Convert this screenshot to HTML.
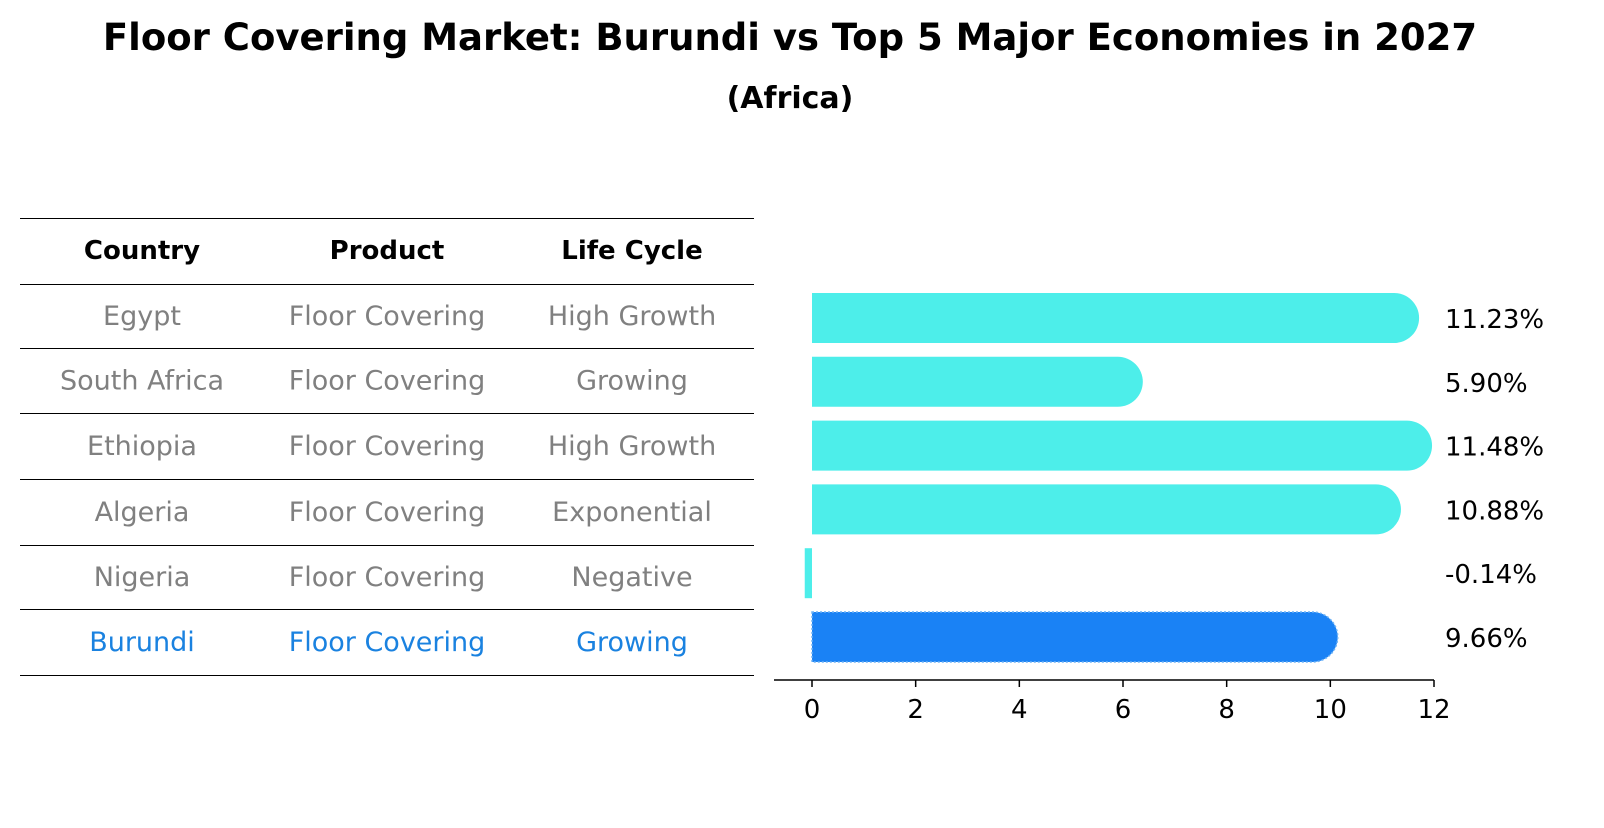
<!DOCTYPE html>
<html><head><meta charset="utf-8"><style>
body{margin:0;background:#fff;font-family:"Liberation Sans","DejaVu Sans",sans-serif;}
</style></head><body>
<svg width="1604" height="823" xmlns="http://www.w3.org/2000/svg" font-family="DejaVu Sans, Liberation Sans, sans-serif">
<text x="790" y="50" text-anchor="middle" font-size="37" font-weight="bold">Floor Covering Market: Burundi vs Top 5 Major Economies in 2027</text>
<text x="790" y="108" text-anchor="middle" font-size="30" font-weight="bold">(Africa)</text>
<g id="table"></g>
<g id="bars"></g>
</svg>
<script>
const countries=["Egypt","South Africa","Ethiopia","Algeria","Nigeria","Burundi"];
const products=["Floor Covering","Floor Covering","Floor Covering","Floor Covering","Floor Covering","Floor Covering"];
const lifeCycles=["High Growth","Growing","High Growth","Exponential","Negative","Growing"];
const values=[11.23,5.90,11.48,10.88,-0.14,9.66];
const ticks=[0,2,4,6,8,10,12];
const NS="http://www.w3.org/2000/svg";
function mk(tag,attrs,parent,txt){const e=document.createElementNS(NS,tag);for(const k in attrs)e.setAttribute(k,attrs[k]);if(txt!==undefined)e.textContent=txt;parent.appendChild(e);return e;}
const tbl=document.getElementById('table');
const lineYs=[218,284,348,413,479,545,609,675];
lineYs.forEach(y=>{const l=mk('line',{x1:20,x2:754,y1:y+0.5,y2:y+0.5,stroke:'#000','stroke-width':1},tbl);

});
const colX=[142,387,632];
["Country","Product","Life Cycle"].forEach((h,i)=>{const t=mk('text',{x:colX[i],y:259,'text-anchor':'middle','font-size':26,'font-weight':'bold'},tbl,h);

});
countries.forEach((c,r)=>{const y=(lineYs[r+1]+lineYs[r+2])/2+9;const col=r===5?'#1a82e0':'#808080';
[c,products[r],lifeCycles[r]].forEach((v,i)=>{const t=mk('text',{x:colX[i],y:y,'text-anchor':'middle','font-size':27,fill:col},tbl,v);

});});
const g=document.getElementById('bars');
const x0=812,pxu=(1434-812)/12;
const X=v=>x0+v*pxu;
const rowY=i=>318+i*63.8;
const h=50,r=25;
values.forEach((v,i)=>{const cy=rowY(i);const fill=i===5?'#1a82f5':'#4deeea';let el;
if(v>0){const xe=X(v);el=mk('path',{d:`M${x0},${cy-h/2} L${xe},${cy-h/2} A${r},${r} 0 0 1 ${xe},${cy+h/2} L${x0},${cy+h/2} Z`,fill:fill},g);
if(i===5){el.setAttribute('stroke','#6fb3f5');el.setAttribute('stroke-dasharray','2,2');el.setAttribute('stroke-width','1.5');}}
else{el=mk('rect',{x:X(v),y:cy-h/2,width:x0-X(v),height:h,fill:fill},g);}


const t=mk('text',{x:1445,y:cy+10,'font-size':26},g,v.toFixed(2)+'%');

});
const ax=mk('line',{x1:774,x2:1434,y1:680,y2:680,stroke:'#000','stroke-width':1.5},g);


ticks.forEach(tv=>{const tk=mk('line',{x1:X(tv),x2:X(tv),y1:680,y2:687,stroke:'#000','stroke-width':1.5},g);


const t=mk('text',{x:X(tv),y:718,'text-anchor':'middle','font-size':26},g,String(tv));

});
</script>
</body></html>
